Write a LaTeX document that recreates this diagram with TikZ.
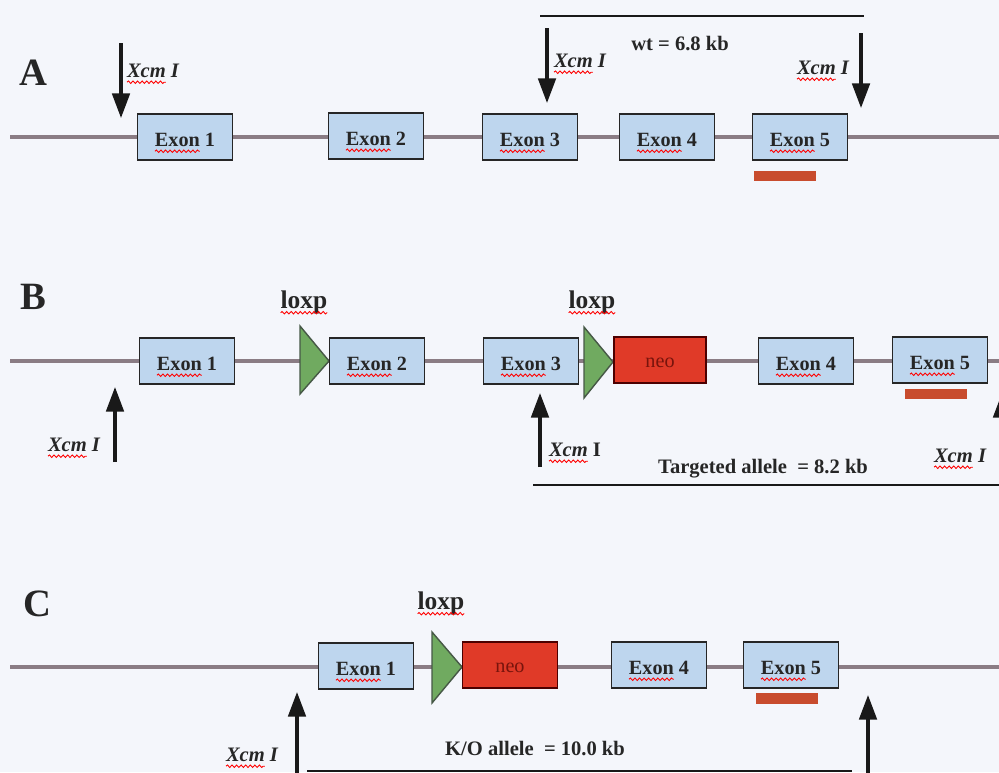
\documentclass[tikz,border=0pt]{standalone}
\usepackage{fontspec}
\setmainfont{Liberation Serif}
\usetikzlibrary{arrows.meta,decorations.pathmorphing}
\definecolor{bgcol}{RGB}{244,246,251}
\definecolor{exonblue}{RGB}{190,214,238}
\definecolor{dnagrey}{RGB}{138,124,132}
\definecolor{neored}{RGB}{224,58,40}
\definecolor{neotext}{RGB}{120,20,12}
\definecolor{loxgreen}{RGB}{112,170,96}
\definecolor{loxedge}{RGB}{70,88,70}
\definecolor{probered}{RGB}{200,76,46}
% red spell-check wave under a word
\newcommand{\wavy}[1]{\tikz[baseline=(w.base),x=1cm,y=1cm]{\node[inner sep=0pt,outer sep=0pt,minimum size=0pt,text height=,text depth=,draw=none,fill=none] (w) {#1};
	\draw[overlay,red,line width=0.5pt,decorate,decoration={snake,amplitude=0.7pt,segment length=2.6pt}] ([yshift=-2.6pt]w.base west) -- ([yshift=-2.6pt]w.base east);}}
\begin{document}
\begin{tikzpicture}[x=0.02cm,y=-0.02cm,
	exon/.style={draw=black!85,line width=1.1pt,fill=exonblue,minimum width=1.9cm,minimum height=0.92cm,inner sep=0pt,text height=11pt,text depth=0pt,font=\bfseries\fontsize{11.5}{12}\selectfont,text=black!85},
	neo/.style={exon,fill=neored,draw=black!70!red,text height=8pt,font=\fontsize{11.5}{12}\selectfont,text=neotext},
	rowlbl/.style={font=\bfseries\fontsize{22}{22}\selectfont,text=black!85},
	cutlbl/.style={font=\bfseries\itshape\fontsize{11.7}{12}\selectfont,text=black!85},
	sizelbl/.style={font=\bfseries\fontsize{11.7}{12}\selectfont,text=black!85},
	loxlbl/.style={font=\bfseries\fontsize{14.5}{15}\selectfont,text=black!85},
	dna/.style={line width=2.6pt,draw=dnagrey},
	cut/.style={line width=1.8pt,draw=black!90,-{Triangle[width=10pt,length=14pt]}},
	span/.style={line width=1.6pt,draw=black!90},
	probe/.style={fill=probered},
	loxtri/.style={fill=loxgreen,draw=loxedge,line width=0.8pt}]
\useasboundingbox (0,0) rectangle (999,772);
\fill[bgcol] (0,0) rectangle (999,772);

% A: wild type
\coordinate (la) at (10,137);
\coordinate (ra) at (1000,137);
\draw[dna] (la) -- (ra);
\node[rowlbl] (A) at (33,73) {A};
\node[exon] (a1) at (185,137) {\wavy{Exon} 1};
\node[exon] (a2) at (376,136) {\wavy{Exon} 2};
\node[exon] (a3) at (530,137) {\wavy{Exon} 3};
\node[exon] (a4) at (667,137) {\wavy{Exon} 4};
\node[exon] (a5) at (800,137) {\wavy{Exon} 5};
\fill[probe] (754,171) rectangle (816,181);
\coordinate (sa1) at (121,43);
\coordinate (ta1) at (121,118);
\coordinate (sa2) at (547,28);
\coordinate (ta2) at (547,103);
\coordinate (sa3) at (861,33);
\coordinate (ta3) at (861,108);
\draw[cut] (sa1) -- (ta1);
\draw[cut] (sa2) -- (ta2);
\draw[cut] (sa3) -- (ta3);
\node[cutlbl] (xa1) at (153,71) {\wavy{Xcm} I};
\node[cutlbl] (xa2) at (580,61) {\wavy{Xcm} I};
\node[cutlbl] (xa3) at (823,68) {\wavy{Xcm} I};
\coordinate (wl) at (540,16);
\coordinate (wr) at (864,16);
\draw[span] (wl) -- (wr);
\node[sizelbl] (wt) at (680,44) {wt = 6.8 kb};

% B: targeted allele
\coordinate (lb) at (10,361);
\coordinate (rb) at (1000,361);
\draw[dna] (lb) -- (rb);
\node[rowlbl] (B) at (33,297) {B};
\node[exon] (b1) at (187,361) {\wavy{Exon} 1};
\draw[loxtri] (300,326) -- (329,361) -- (300,394) -- cycle;
\node[loxlbl] (lxb1) at (304,302) {\wavy{loxp}};
\node[exon] (b2) at (377,361) {\wavy{Exon} 2};
\node[exon] (b3) at (531,361) {\wavy{Exon} 3};
\draw[loxtri] (584,327) -- (613,362) -- (584,398) -- cycle;
\node[loxlbl] (lxb2) at (592,302) {\wavy{loxp}};
\node[neo,minimum width=1.84cm] (nb) at (660,360) {neo};
\node[exon] (b4) at (806,361) {\wavy{Exon} 4};
\node[exon] (b5) at (940,360) {\wavy{Exon} 5};
\fill[probe] (905,389) rectangle (967,399);
\coordinate (sb1) at (115,462);
\coordinate (tb1) at (115,387);
\coordinate (sb2) at (540,467);
\coordinate (tb2) at (540,393);
\coordinate (sb3) at (1002,467);
\coordinate (tb3) at (1002,393);
\draw[cut] (sb1) -- (tb1);
\draw[cut] (sb2) -- (tb2);
\draw[cut] (sb3) -- (tb3);
\node[cutlbl] (xb1) at (74,445) {\wavy{Xcm} I};
\node[cutlbl] (xb2) at (575,450) {\wavy{Xcm} \upshape I};
\node[cutlbl] (xb3) at (960,456) {\wavy{Xcm} I};
\coordinate (tl) at (533,485);
\coordinate (tr) at (1000,485);
\draw[span] (tl) -- (tr);
\node[sizelbl] (tg) at (763,469) {Targeted allele~ = 8.2 kb};

% C: knock-out allele
\coordinate (lc) at (10,667);
\coordinate (rc) at (1000,667);
\draw[dna] (lc) -- (rc);
\node[rowlbl] (C) at (37,604) {C};
\node[exon] (c1) at (366,666) {\wavy{Exon} 1};
\draw[loxtri] (432,632) -- (462,667) -- (432,703) -- cycle;
\node[loxlbl] (lxc) at (441,603) {\wavy{loxp}};
\node[neo] (nc) at (510,665) {neo};
\node[exon] (c4) at (659,665) {\wavy{Exon} 4};
\node[exon] (c5) at (791,665) {\wavy{Exon} 5};
\fill[probe] (756,693) rectangle (818,704);
\coordinate (sc1) at (297,780);
\coordinate (tc1) at (297,692);
\coordinate (sc2) at (868,780);
\coordinate (tc2) at (868,695);
\draw[cut] (sc1) -- (tc1);
\draw[cut] (sc2) -- (tc2);
\node[cutlbl] (xc1) at (252,755) {\wavy{Xcm} I};
\coordinate (kl) at (307,771);
\coordinate (kr) at (852,771);
\draw[span] (kl) -- (kr);
\node[sizelbl] (ko) at (535,748) {K/O allele~ = 10.0 kb};
\end{tikzpicture}
\end{document}
